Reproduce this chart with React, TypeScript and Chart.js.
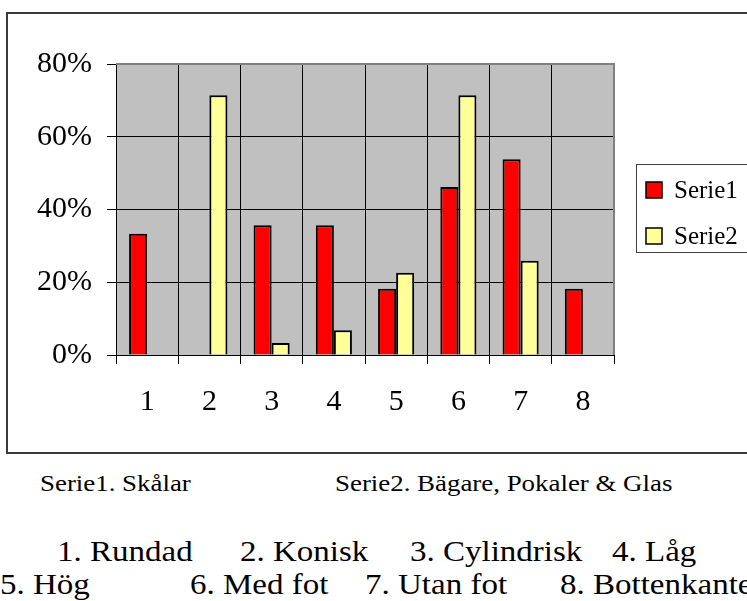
import React, { useEffect, useRef } from "react";
import { Chart, registerables } from "chart.js";

Chart.register(...registerables);

const categories = ["1", "2", "3", "4", "5", "6", "7", "8"];
const serie1 = [33.3, 0, 35.7, 35.7, 18.2, 46.2, 53.8, 18.2];
const serie2 = [0, 71.4, 3.3, 6.8, 22.6, 71.4, 25.9, 0];
const seriesLabels = ["Serie1", "Serie2"];
const seriesColors = ["#FF0000", "#FFFF99"];
const yTicks = [0, 20, 40, 60, 80];

const seriesNotes = ["Serie1. Skålar", "Serie2. Bägare, Pokaler & Glas"];
const categoryNotesRow1 = ["1. Rundad", "2. Konisk", "3. Cylindrisk", "4. Låg"];
const categoryNotesRow2 = ["5. Hög", "6. Med fot", "7. Utan fot", "8. Bottenkanten"];

const FONT = '"Liberation Serif", "Times New Roman", serif';

const plotDecor = {
  id: "plotDecor",
  beforeDraw(chart: any) {
    const { ctx, chartArea: a } = chart;
    ctx.save();
    ctx.fillStyle = "#C0C0C0";
    ctx.fillRect(a.left, a.top, a.right - a.left, a.bottom - a.top);
    ctx.restore();
  },
  afterDraw(chart: any) {
    const { ctx, chartArea: a } = chart;
    ctx.save();
    // top / right plot border in grey
    ctx.strokeStyle = "#808080";
    ctx.lineWidth = 2;
    ctx.beginPath();
    ctx.moveTo(a.left, a.top);
    ctx.lineTo(a.right, a.top);
    ctx.lineTo(a.right, a.bottom);
    ctx.stroke();
    // legend
    const lx = a.right + 22;
    const ly = a.top + 100;
    ctx.fillStyle = "#FFFFFF";
    ctx.fillRect(lx, ly, 130, 88);
    ctx.strokeStyle = "#404040";
    ctx.lineWidth = 1;
    ctx.strokeRect(lx + 0.5, ly + 0.5, 130, 88);
    ctx.font = `25px ${FONT}`;
    ctx.textBaseline = "middle";
    chart.data.datasets.forEach((ds: any, i: number) => {
      const cy = ly + 26 + i * 46;
      ctx.fillStyle = ds.backgroundColor;
      ctx.fillRect(lx + 10, cy - 8, 16, 16);
      ctx.strokeStyle = "#000";
      ctx.lineWidth = 1.5;
      ctx.strokeRect(lx + 10, cy - 8, 16, 16);
      ctx.fillStyle = "#000";
      ctx.fillText(ds.label, lx + 38, cy + 1);
    });
    ctx.restore();
  },
};

export default function App() {
  const ref = useRef<HTMLCanvasElement>(null);
  useEffect(() => {
    if (!ref.current) return;
    const chart = new Chart(ref.current, {
      type: "bar",
      data: {
        labels: categories,
        datasets: [
          {
            label: seriesLabels[0],
            data: serie1,
            backgroundColor: seriesColors[0],
            borderColor: "#000",
            borderWidth: 2,
          },
          {
            label: seriesLabels[1],
            data: serie2,
            backgroundColor: seriesColors[1],
            borderColor: "#000",
            borderWidth: 2,
          },
        ],
      },
      options: {
        responsive: false,
        animation: false,
        devicePixelRatio: 1,
        layout: { padding: { left: 0, top: 64, right: 133, bottom: 0 } },
        datasets: { bar: { categoryPercentage: 0.58, barPercentage: 1.0 } },
        plugins: { legend: { display: false }, tooltip: { enabled: false } },
        scales: {
          x: {
            grid: { color: "#000", lineWidth: 1, tickLength: 9, offset: true },
            border: { color: "#000", width: 1 },
            ticks: { color: "#000", font: { family: FONT, size: 30 }, padding: 20 },
            afterFit: (s: any) => {
              s.height = 105;
            },
          },
          y: {
            min: 0,
            max: 80,
            afterBuildTicks: (s: any) => {
              s.ticks = yTicks.map((v) => ({ value: v }));
            },
            grid: { color: "#000", lineWidth: 1, tickLength: 9 },
            border: { color: "#000", width: 1 },
            ticks: {
              color: "#000",
              font: { family: FONT, size: 30 },
              padding: 15,
              callback: (v: any) => `${v}%`,
            },
            afterFit: (s: any) => {
              s.width = 116;
            },
          },
        },
      },
      plugins: [plotDecor],
    });
    return () => chart.destroy();
  }, []);

  const textStyle = (left: number, top: number, size: number, sx: number): React.CSSProperties => ({
    position: "absolute",
    left,
    top,
    fontFamily: FONT,
    fontSize: size,
    lineHeight: 1,
    whiteSpace: "nowrap",
    color: "#000",
    transform: `scaleX(${sx})`,
    transformOrigin: "left top",
  });

  const row1Left = [57, 240, 410, 612];
  const row2Left = [0, 190, 365, 560];

  return (
    <div
      style={{
        position: "fixed",
        left: 0,
        top: 0,
        width: 747,
        height: 601,
        overflow: "hidden",
        background: "#fff",
      }}
    >
      <canvas
        ref={ref}
        width={747}
        height={460}
        style={{ position: "absolute", left: 0, top: 0 }}
      />
      <div
        style={{
          position: "absolute",
          left: 6,
          top: 12,
          width: 780,
          height: 438,
          border: "2px solid #3a3a3a",
          pointerEvents: "none",
        }}
      />
      <div style={textStyle(40, 471, 24, 1.12)}>{seriesNotes[0]}</div>
      <div style={textStyle(335, 471, 24, 1.12)}>{seriesNotes[1]}</div>
      {categoryNotesRow1.map((t, i) => (
        <div key={t} style={textStyle(row1Left[i], 536, 30, 1.1)}>
          {t}
        </div>
      ))}
      {categoryNotesRow2.map((t, i) => (
        <div key={t} style={textStyle(row2Left[i], 569, 30, 1.1)}>
          {t}
        </div>
      ))}
    </div>
  );
}
